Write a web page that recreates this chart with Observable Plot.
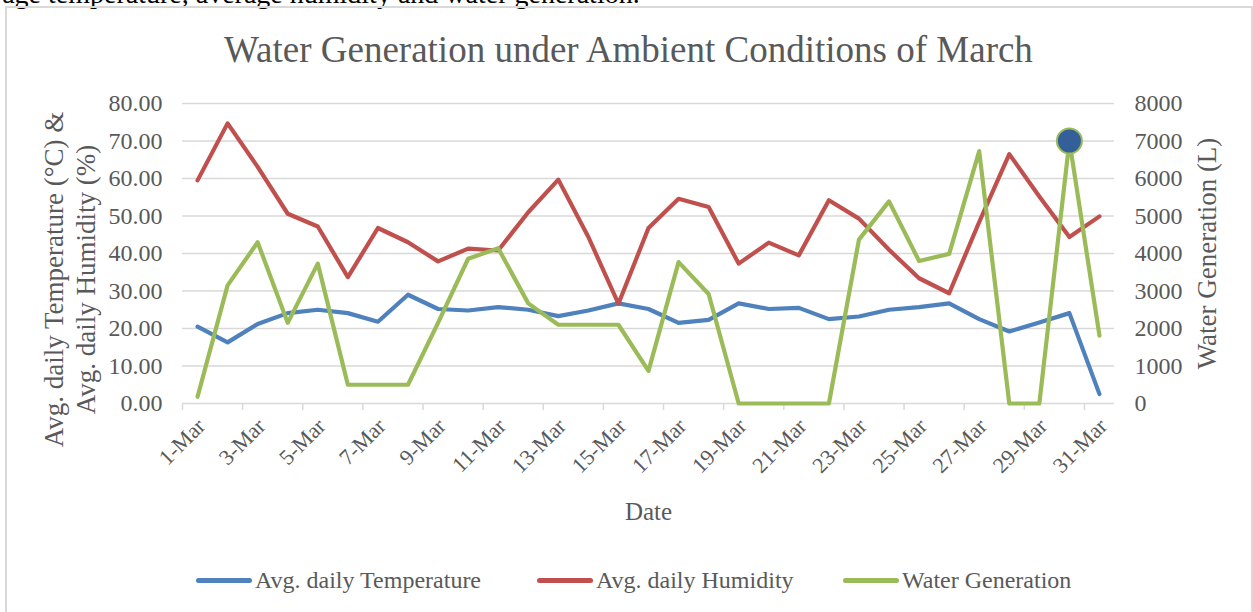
<!DOCTYPE html>
<html>
<head>
<meta charset="utf-8">
<script src="https://cdn.jsdelivr.net/npm/d3@7"></script>
<script src="https://cdn.jsdelivr.net/npm/@observablehq/plot@0.6"></script>
<style>
  html, body { margin: 0; padding: 0; background: #fff; }
  #wrap { position: relative; width: 1253px; height: 612px; overflow: hidden; font-family: "Liberation Serif", "Times New Roman", serif; }
  #pretext { position: absolute; left: -46px; top: -20px; font-size: 28px; line-height: 28px; color: #000; white-space: nowrap; }
  #border { position: absolute; left: 5px; top: 6px; width: 1248px; height: 640px; border: 2px solid #d9d9d9; box-sizing: border-box; background: transparent; }
  #title { position: absolute; left: 0; width: 1257px; top: 28px; text-align: center; font-size: 37px; color: #595959; white-space: nowrap; }
  #chart { position: absolute; left: 0; top: 0; }
  .leg { position: absolute; top: 566px; font-size: 24px; color: #595959; white-space: nowrap; display: flex; align-items: center; height: 28px; }
  .sw { display: inline-block; width: 56px; height: 5px; border-radius: 3px; margin-right: 3px; }
</style>
</head>
<body>
<div id="wrap">
  <div id="pretext">average temperature, average humidity and water generation.</div>
  <div id="border"></div>
  <div id="title">Water Generation under Ambient Conditions of March</div>
  <div id="chart"></div>
  <div id="legend"></div>
</div>
<script>
const dates = ["1-Mar","2-Mar","3-Mar","4-Mar","5-Mar","6-Mar","7-Mar","8-Mar","9-Mar","10-Mar",
  "11-Mar","12-Mar","13-Mar","14-Mar","15-Mar","16-Mar","17-Mar","18-Mar","19-Mar","20-Mar",
  "21-Mar","22-Mar","23-Mar","24-Mar","25-Mar","26-Mar","27-Mar","28-Mar","29-Mar","30-Mar","31-Mar"];
const temperature = [20.5,16.3,21.2,24.1,25.0,24.1,21.8,29.0,25.2,24.8,25.7,25.0,23.3,24.8,26.7,25.2,21.5,22.3,26.7,25.2,25.5,22.5,23.2,25.0,25.7,26.7,22.5,19.2,21.6,24.1,2.5];
const humidity = [59.5,74.7,63.1,50.6,47.2,33.7,46.8,43.0,37.9,41.3,40.8,51.0,59.7,44.4,26.6,46.8,54.6,52.4,37.3,42.9,39.5,54.2,49.3,41.0,33.4,29.4,48.4,66.5,55.2,44.4,49.9];
const water = [180,3150,4300,2150,3730,500,500,500,2150,3860,4140,2670,2100,2100,2100,870,3770,2920,0,0,0,0,4370,5390,3800,3990,6730,0,0,7000,1810];
const leftTicks = [0,10,20,30,40,50,60,70,80];
const rightTicks = [0,1000,2000,3000,4000,5000,6000,7000,8000];
const highlightDate = "30-Mar";
const seriesNames = ["Avg. daily Temperature","Avg. daily Humidity","Water Generation"];
const colors = ["#4F81BD","#C0504D","#9BBB59"];

const ratio = 8000 / 80; // right axis units per left axis unit
const rows = dates.map((d, i) => ({day: i + 1, date: d, temp: temperature[i], hum: humidity[i], water: water[i]}));
const labelDays = rows.filter((r, i) => i % 2 === 0).map(r => r.day);
const tickDays = rows.filter((r, i) => i % 2 === 0).map(r => r.day - 0.5);
const hi = rows.filter(r => r.date === highlightDate);

const grey = "#595959";
const plot = Plot.plot({
  width: 1253,
  height: 612,
  marginTop: 103,
  marginBottom: 209,
  marginLeft: 182,
  marginRight: 139,
  style: {fontFamily: "'Liberation Serif', 'Times New Roman', serif", fontSize: "24px", color: grey, background: "transparent", overflow: "visible"},
  x: {type: "linear", domain: [0.5, 31.5]},
  y: {domain: [0, 80]},
  marks: [
    Plot.ruleY(leftTicks, {stroke: "#d9d9d9", strokeWidth: 1.5}),
    Plot.axisX({ticks: tickDays, tickSize: 7, tickFormat: () => "", stroke: "#d9d9d9", strokeWidth: 1.5, label: null}),
    Plot.text(labelDays, {x: d => d, y: 0, text: d => dates[d - 1], rotate: -45, textAnchor: "end", lineAnchor: "middle", dx: 4, dy: 19, fontSize: 22, fill: grey}),
    Plot.axisY({ticks: leftTicks, anchor: "left", tickSize: 0, tickPadding: 20, tickFormat: d => d.toFixed(2), label: null}),
    Plot.axisY({ticks: rightTicks.map(t => t / ratio), anchor: "right", tickSize: 0, tickPadding: 20, tickFormat: d => String(Math.round(d * ratio)), label: null}),
    Plot.line(rows, {x: "day", y: "temp", stroke: colors[0], strokeWidth: 4.2, strokeLinejoin: "round", strokeLinecap: "round"}),
    Plot.line(rows, {x: "day", y: "hum", stroke: colors[1], strokeWidth: 4.2, strokeLinejoin: "round", strokeLinecap: "round"}),
    Plot.line(rows, {x: "day", y: d => d.water / ratio, stroke: colors[2], strokeWidth: 4.2, strokeLinejoin: "round", strokeLinecap: "round"}),
    Plot.dot(hi, {x: "day", y: d => d.water / ratio, r: 12.5, fill: "#34609A", stroke: colors[2], strokeWidth: 2}),
    Plot.text(["Avg. daily Temperature (°C) &\nAvg. daily Humidity (%)"], {frameAnchor: "left", textAnchor: "middle", lineAnchor: "middle", rotate: -90, dx: -114, dy: 26, fontSize: 27, lineHeight: 1.18, fill: grey}),
    Plot.text(["Water Generation (L)"], {frameAnchor: "right", textAnchor: "middle", lineAnchor: "middle", rotate: -90, dx: 93, dy: 0, fontSize: 27, fill: grey}),
    Plot.text(["Date"], {frameAnchor: "bottom", textAnchor: "middle", lineAnchor: "middle", dy: 108, fontSize: 25, fill: grey})
  ]
});
document.getElementById("chart").appendChild(plot);

const legend = document.getElementById("legend");
const legLeft = [196, 537, 843];
seriesNames.forEach((name, i) => {
  const item = document.createElement("div");
  item.className = "leg";
  item.style.left = legLeft[i] + "px";
  const sw = document.createElement("span");
  sw.className = "sw";
  sw.style.background = colors[i];
  item.appendChild(sw);
  item.appendChild(document.createTextNode(name));
  legend.appendChild(item);
});
</script>
</body>
</html>
